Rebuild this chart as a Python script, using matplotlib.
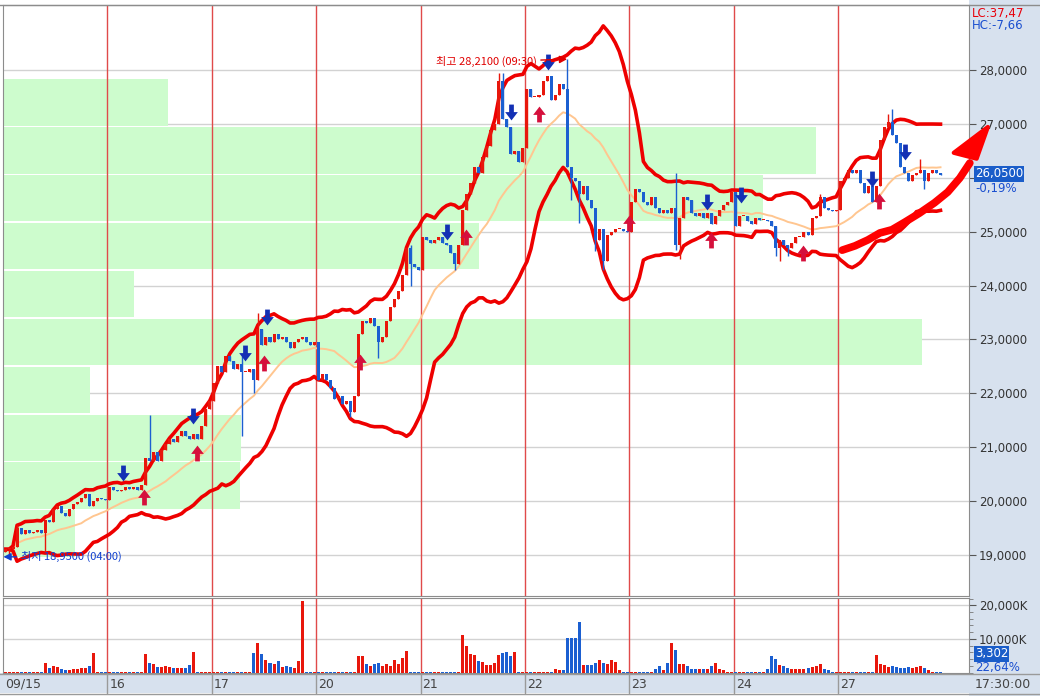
import numpy as np
import pandas as pd
import matplotlib
matplotlib.use("Agg")
import matplotlib.pyplot as plt
from matplotlib.patches import Rectangle, Polygon
from matplotlib.path import Path
from matplotlib.transforms import blended_transform_factory
from matplotlib.ticker import FuncFormatter, MultipleLocator

plt.rcParams['font.family'] = ['DejaVu Sans']
KR = ['Noto Sans CJK KR', 'DejaVu Sans']

# ---- data: hourly closes, 26 bars per day ----
day_labels = ["09/15", "16", "17", "20", "21", "22", "23", "24", "27"]
close_15 = [19.10, 19.10, 19.15, 19.50, 19.38, 19.45, 19.40, 19.42, 19.45, 19.40, 19.65, 19.60, 19.85,
            19.90, 19.78, 19.72, 19.85, 19.95, 19.98, 20.05, 20.12, 19.90, 20.00, 20.05, 20.03, 20.02]
close_16 = [20.25, 20.20, 20.18, 20.20, 20.25, 20.22, 20.25, 20.20, 20.30, 20.80, 20.75, 20.90, 20.75,
            20.95, 21.05, 21.15, 21.10, 21.20, 21.30, 21.20, 21.15, 21.25, 21.15, 21.40, 21.70, 21.85]
close_17 = [22.20, 22.50, 22.40, 22.70, 22.60, 22.45, 22.55, 22.40, 22.40, 22.45, 22.25, 23.20, 22.90,
            23.05, 22.95, 23.10, 23.00, 23.05, 22.95, 22.85, 22.95, 23.00, 23.05, 22.95, 22.90, 22.95]
close_20 = [22.25, 22.35, 22.25, 22.10, 21.90, 21.95, 21.80, 21.85, 21.65, 21.95, 23.10, 23.35, 23.30,
            23.40, 23.25, 22.95, 23.05, 23.35, 23.60, 23.75, 23.90, 24.20, 24.70, 24.40, 24.35, 24.30]
close_21 = [24.90, 24.85, 24.80, 24.85, 24.90, 24.80, 24.75, 24.60, 24.40, 24.75, 25.40, 25.70, 25.90,
            26.20, 26.10, 26.40, 26.60, 26.90, 27.00, 27.80, 27.10, 26.95, 26.45, 26.50, 26.30, 26.55]
close_22 = [27.65, 27.50, 27.50, 27.55, 27.80, 27.90, 27.45, 27.55, 27.75, 27.65, 26.20, 26.00, 25.95,
            25.70, 25.85, 25.60, 25.45, 24.85, 25.05, 24.45, 24.95, 25.00, 25.05, 25.05, 25.02, 25.00]
close_23 = [25.55, 25.80, 25.75, 25.55, 25.50, 25.65, 25.45, 25.35, 25.40, 25.35, 25.45, 24.75, 25.25,
            25.65, 25.60, 25.35, 25.30, 25.35, 25.25, 25.35, 25.15, 25.30, 25.40, 25.50, 25.55, 25.75]
close_24 = [25.10, 25.30, 25.30, 25.20, 25.15, 25.25, 25.22, 25.22, 25.20, 25.10, 24.70, 24.85, 24.75,
            24.70, 24.80, 24.90, 24.90, 25.00, 24.95, 25.25, 25.30, 25.65, 25.45, 25.40, 25.38, 25.40]
close_27 = [25.95, 26.00, 26.15, 26.10, 26.15, 25.90, 25.72, 25.85, 25.55, 25.85, 26.70, 26.95, 27.05,
            26.80, 26.65, 26.20, 26.10, 25.95, 26.05, 26.10, 26.15, 25.95, 26.10, 26.15, 26.10, 26.05]
first_open = 19.05

# notable wicks (bar index -> price)
wick_hi = {3: 19.55, 36: 21.60, 59: 22.70, 63: 23.50, 101: 24.75, 123: 27.95, 124: 27.95,
           140: 28.21, 167: 26.10, 182: 25.75, 203: 25.70, 220: 27.20, 221: 27.28, 228: 26.35}
wick_lo = {1: 18.95, 10: 19.05, 59: 21.20, 62: 22.00, 86: 21.55, 93: 22.65, 101: 24.00, 112: 24.30,
           141: 25.60, 143: 25.17, 147: 24.65, 149: 24.30, 167: 24.66, 168: 24.50, 192: 24.55,
           193: 24.45, 195: 24.55, 229: 25.80}

# volume in K
vol_15 = [150, 150, 150, 150, 150, 150, 150, 150, 150, 150, 2730, 1300, 1850, 1560, 970, 780, 680,
          1160, 1160, 1260, 1260, 1950, 5970, 150, 150, 150]
vol_16 = [150, 150, 150, 150, 150, 150, 150, 150, 150, 5660, 2740, 2440, 1560, 1560, 1850, 1560, 1270,
          1270, 1270, 1270, 2150, 6270, 150, 150, 150, 150]
vol_17 = [150, 150, 150, 150, 150, 150, 150, 150, 150, 150, 5970, 8920, 5660, 3900, 2740, 2440, 3330,
          1560, 1850, 1560, 1270, 3600, 21270, 150, 150, 150]
vol_20 = [150, 150, 150, 150, 150, 150, 150, 150, 150, 150, 5070, 5070, 2440, 1850, 2440, 2740, 1850,
          2440, 1850, 3900, 2440, 4500, 6560, 150, 150, 150]
vol_21 = [150, 150, 150, 150, 150, 150, 150, 150, 150, 150, 11260, 8040, 5660, 5370, 3330, 3030, 2150,
          2150, 2740, 5370, 5970, 6270, 5070, 6270, 150, 150]
vol_22 = [150, 150, 150, 150, 150, 150, 150, 970, 680, 680, 10200, 10200, 10200, 15000, 2150, 2150,
          2150, 2930, 3620, 2930, 2440, 3620, 3130, 680, 150, 150]
vol_23 = [150, 150, 150, 150, 150, 150, 970, 1950, 680, 2930, 8900, 6800, 2440, 2440, 1950, 970, 970,
          970, 970, 970, 1950, 2740, 970, 680, 150, 150]
vol_24 = [150, 150, 150, 150, 150, 150, 150, 150, 970, 5000, 4200, 2150, 1950, 1270, 970, 970, 970,
          970, 1270, 1560, 1950, 2440, 970, 680, 150, 150]
vol_27 = [150, 150, 150, 150, 150, 150, 150, 150, 150, 5300, 2440, 2150, 1560, 1950, 1560, 1270, 1270,
          1560, 1270, 1560, 1950, 1270, 680, 150, 150, 150]

# volume-by-price profile (price bin edges, relative volume % of width)
profile_edges = [18.95, 19.84, 20.73, 21.62, 22.51, 23.40, 24.29, 25.18, 26.07, 26.96, 27.85]
profile_vol = [7.5, 24.5, 24.6, 9.0, 95.1, 13.6, 49.3, 78.7, 84.2, 17.1]

# fractal arrows (bar position, price)
down_x = [29.3, 46.8, 59.8, 65.3, 110.1, 126.0, 135.2, 174.8, 183.3, 215.9, 224.2]
down_p = [20.52, 21.57, 22.75, 23.42, 25.00, 27.23, 28.16, 25.56, 25.69, 25.98, 26.48]
up_x = [34.6, 47.8, 64.5, 88.4, 114.8, 133.0, 155.4, 175.8, 198.8, 217.7]
up_p = [20.07, 20.89, 22.56, 22.58, 24.90, 27.20, 25.17, 24.85, 24.61, 25.57]

# hand drawn trend stroke
stroke_x = [208.5, 211.7, 214.9, 217.9, 220.9, 224.1, 227.8, 231.5, 234.8, 237.8, 240.3]
stroke_p = [24.66, 24.74, 24.85, 24.98, 25.04, 25.18, 25.35, 25.54, 25.74, 26.00, 26.28]
head_x = [236.3, 244.8, 242.0]
head_p = [26.47, 26.95, 26.36]

close = np.array(close_15 + close_16 + close_17 + close_20 + close_21 + close_22 + close_23 + close_24 + close_27)
vol = np.array(vol_15 + vol_16 + vol_17 + vol_20 + vol_21 + vol_22 + vol_23 + vol_24 + vol_27, dtype=float)
n = len(close)
idx = np.arange(n)
opn = np.r_[first_open, close[:-1]]
high = np.maximum(opn, close)
low = np.minimum(opn, close)
for k, v in wick_hi.items():
    high[k] = max(high[k], v)
for k, v in wick_lo.items():
    low[k] = min(low[k], v)

s = pd.Series(close)
ma = s.rolling(20, min_periods=1).mean()
sd = s.rolling(20, min_periods=1).std(ddof=0)
upper = ma + 2 * sd
lower = ma - 2 * sd

RED = "#e8170c"
BLUE = "#1b5fd1"
STRIP = "#d7e1ee"
W, H = 1040, 696


def fbox(x0, y0, x1, y1):
    return [x0 / W, 1 - y1 / H, (x1 - x0) / W, (y1 - y0) / H]


def price_fmt(v, p):
    # the 26 label sits under the current-price box
    if abs(v - 26) < 1e-6:
        return ""
    return f"{v:.4f}".replace(".", ",")


fig = plt.figure(figsize=(10.4, 6.96), dpi=100, facecolor="white")
fig.patches.append(Rectangle((969 / W, 0), 1 - 969 / W, 1, transform=fig.transFigure,
                             facecolor=STRIP, edgecolor="none", zorder=-2))
fig.patches.append(Rectangle((0, 1 - 693 / H), 1, 20 / H, transform=fig.transFigure,
                             facecolor=STRIP, edgecolor="none", zorder=-2))

ax = fig.add_axes(fbox(3, 5, 969, 596))
axv = fig.add_axes(fbox(3, 598, 969, 673))

slot = 4.015
xmin, xmax = -0.5, -0.5 + 966 / slot
day_bounds = [26 * k - 0.5 for k in range(len(day_labels))]

for a in (ax, axv):
    a.set_xlim(xmin, xmax)
    for sp in a.spines.values():
        sp.set_color("#8c8c8c")
    a.tick_params(axis="x", bottom=False, labelbottom=False)
    a.yaxis.tick_right()
    for b in day_bounds[1:]:
        a.axvline(b, color="#e04a4a", lw=1, zorder=0.7)

# ---- price panel ----
ax.set_ylim(18.232, 29.217)
ax.set_yticks(np.arange(19, 29))
ax.yaxis.set_major_formatter(FuncFormatter(price_fmt))
ax.tick_params(axis="y", length=5, color="#555555", pad=2, labelsize=8.5, labelcolor="#333333")
ax.grid(axis="y", color="#d2d2d2", lw=1)
ax.set_axisbelow(True)

blend = blended_transform_factory(ax.transAxes, ax.transData)
for lo_e, hi_e, pv in zip(profile_edges[:-1], profile_edges[1:], profile_vol):
    ax.add_patch(Rectangle((0, lo_e + 0.015), pv / 100, hi_e - lo_e - 0.03, transform=blend,
                           facecolor="#cdfccd", edgecolor="none", zorder=0.6))

ax.plot(idx, ma, color="#ffc690", lw=1.4, zorder=2)
ax.plot(idx, upper, color="#ee0000", lw=2.6, zorder=2.2, solid_joinstyle="round")
ax.plot(idx, lower, color="#ee0000", lw=2.6, zorder=2.2, solid_joinstyle="round")

cols = np.where(close >= opn, RED, BLUE)
ax.vlines(idx, low, high, colors=cols, lw=1, zorder=3)
body = np.maximum(np.abs(close - opn), 0.02)
ax.bar(idx, body, bottom=np.minimum(opn, close), width=0.75, color=cols, zorder=3.1, linewidth=0)

down_arrow = Path([(-0.3, 1), (0.3, 1), (0.3, 0.05), (0.8, 0.05), (0, -1), (-0.8, 0.05),
                   (-0.3, 0.05), (-0.3, 1)], closed=True)
up_arrow = Path([(-0.3, -1), (0.3, -1), (0.3, -0.05), (0.8, -0.05), (0, 1), (-0.8, -0.05),
                 (-0.3, -0.05), (-0.3, -1)], closed=True)
ax.scatter(down_x, down_p, marker=down_arrow, s=130, color="#1330b4", zorder=4, linewidths=0)
ax.scatter(up_x, up_p, marker=up_arrow, s=130, color="#d5103c", zorder=4, linewidths=0)

ax.annotate("최고 28,2100 (09:30)", xy=(140, 28.21), xytext=(107.3, 28.16), color="#e00000",
            fontsize=8, family=KR, va="center", ha="left", zorder=5,
            arrowprops=dict(arrowstyle="-|>", color="#e00000", lw=1, shrinkA=1, shrinkB=0,
                            mutation_scale=11))
ax.annotate("최저 18,9500 (04:00)", xy=(-0.4, 18.96), xytext=(3.9, 18.96), color="#1040d0",
            fontsize=8, family=KR, va="center", ha="left", zorder=5,
            arrowprops=dict(arrowstyle="-|>", color="#1040d0", lw=1, shrinkA=1, shrinkB=0,
                            mutation_scale=11))

ax.plot(stroke_x, stroke_p, color="#ff0000", lw=5.5, solid_capstyle="round",
        solid_joinstyle="round", clip_on=False, zorder=6)
ax.add_patch(Polygon(list(zip(head_x, head_p)), closed=True, facecolor="#ff0000",
                     edgecolor="#ff0000", lw=3, joinstyle="round", clip_on=False, zorder=6))

# ---- volume panel ----
axv.set_ylim(-90, 22150)
axv.set_yticks([10000, 20000])
axv.yaxis.set_major_formatter(FuncFormatter(lambda v, p: f"{int(v):,}K"))
axv.yaxis.set_minor_locator(MultipleLocator(2000))
axv.tick_params(axis="y", which="major", length=5, color="#555555", pad=2, labelsize=8.5,
                labelcolor="#333333")
axv.tick_params(axis="y", which="minor", length=3, color="#777777")
axv.grid(axis="y", color="#d2d2d2", lw=1)
axv.set_axisbelow(True)
axv.bar(idx, vol, width=0.75, color=cols, linewidth=0, zorder=3)

# ---- date strip ----
bt = blended_transform_factory(ax.transData, fig.transFigure)
for b, lab in zip(day_bounds, day_labels):
    ax.text(b + 0.5, 1 - 684 / H, lab, transform=bt, fontsize=9, color="#444444",
            va="center", ha="left", clip_on=False)
    if b > 0:
        ax.plot([b, b], [1 - 693 / H, 1 - 673 / H], transform=bt, color="#9a9a9a", lw=1,
                clip_on=False)
fig.text(975 / W, 1 - 684 / H, "17:30:00", fontsize=9, color="#444444", va="center")
fig.add_artist(plt.Line2D([0, 1], [1 - 673.5 / H] * 2, transform=fig.transFigure, color="#9a9a9a", lw=1))
fig.add_artist(plt.Line2D([0, 1], [1 - 693.5 / H] * 2, transform=fig.transFigure, color="#9a9a9a", lw=1))
fig.add_artist(plt.Line2D([0, 1], [1 - 5 / H] * 2, transform=fig.transFigure, color="#8c8c8c", lw=1))

# ---- right strip labels ----
fig.text(972 / W, 1 - 13 / H, "LC:37,47", fontsize=8.5, color="#e8000b", va="center")
fig.text(972 / W, 1 - 25 / H, "HC:-7,66", fontsize=8.5, color="#1a4fd0", va="center")
fig.text(975 / W, 1 - 174 / H, "26,0500", fontsize=8.5, color="white", va="center",
         bbox=dict(facecolor="#1a5dc9", edgecolor="none", pad=0.8))
fig.text(975 / W, 1 - 188 / H, "-0,19%", fontsize=8.5, color="#1a4fd0", va="center")
fig.text(975 / W, 1 - 654 / H, "3,302", fontsize=8.5, color="white", va="center",
         bbox=dict(facecolor="#1a5dc9", edgecolor="none", pad=0.8))
fig.text(975 / W, 1 - 667 / H, "22,64%", fontsize=8.5, color="#1a4fd0", va="center")

fig.savefig("out.png", dpi=100)
